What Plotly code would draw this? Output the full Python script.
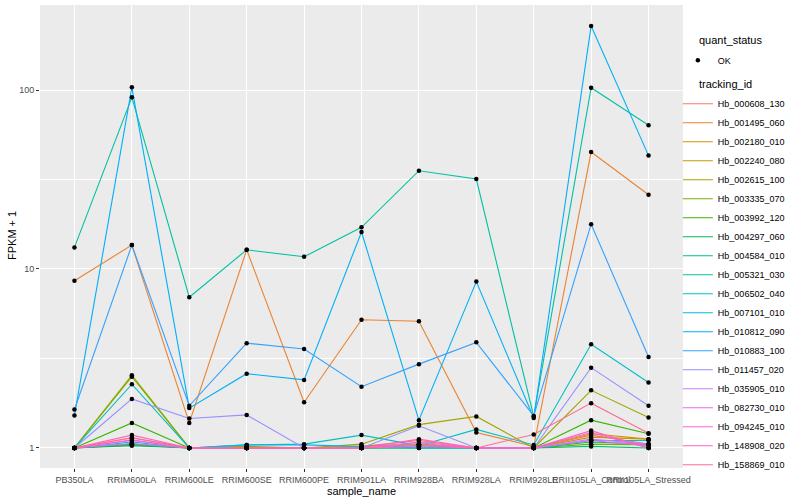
import plotly.graph_objects as go

samples = ["PB350LA", "RRIM600LA", "RRIM600LE", "RRIM600SE", "RRIM600PE", "RRIM901LA",
           "RRIM928BA", "RRIM928LA", "RRIM928LE", "RRII105LA_Control", "RRII105LA_Stressed"]

tracking_ids = ["Hb_000608_130", "Hb_001495_060", "Hb_002180_010", "Hb_002240_080", "Hb_002615_100",
                "Hb_003335_070", "Hb_003992_120", "Hb_004297_060", "Hb_004584_010", "Hb_005321_030",
                "Hb_006502_040", "Hb_007101_010", "Hb_010812_090", "Hb_010883_100", "Hb_011457_020",
                "Hb_035905_010", "Hb_082730_010", "Hb_094245_010", "Hb_148908_020", "Hb_158869_010"]

colors = ["#F8766D", "#EA8331", "#D89000", "#C09B00", "#A3A500", "#7CAE00", "#39B600", "#00BB4E",
          "#00BF7D", "#00C1A3", "#00BFC4", "#00BAE0", "#00B0F6", "#35A2FF", "#9590FF", "#C77CFF",
          "#E76BF3", "#FA62DB", "#FF62BC", "#FF6C91"]

# FPKM + 1 per tracking id, in sample order
Hb_000608_130 = [1.0, 1.14, 1.0, 1.0, 1.0, 1.02, 1.10, 1.0, 1.0, 1.18, 1.05]
Hb_001495_060 = [8.6, 13.6, 1.38, 12.8, 1.8, 5.2, 5.1, 1.22, 1.02, 45.0, 26.0]
Hb_002180_010 = [1.0, 1.05, 1.0, 1.0, 1.0, 1.0, 1.05, 1.0, 1.0, 1.2, 1.12]
Hb_002240_080 = [1.0, 1.04, 1.0, 1.0, 1.0, 1.0, 1.03, 1.0, 1.0, 1.15, 1.12]
Hb_002615_100 = [1.0, 2.55, 1.0, 1.02, 1.0, 1.05, 1.35, 1.5, 1.0, 2.1, 1.48]
Hb_003335_070 = [1.0, 2.5, 1.0, 1.0, 1.0, 1.02, 1.05, 1.0, 1.0, 1.05, 1.04]
Hb_003992_120 = [1.0, 1.38, 1.0, 1.0, 1.0, 1.0, 1.02, 1.0, 1.0, 1.43, 1.2]
Hb_004297_060 = [1.0, 1.03, 1.0, 1.0, 1.0, 1.0, 1.0, 1.0, 1.0, 1.08, 1.05]
Hb_004584_010 = [1.0, 1.05, 1.0, 1.0, 1.0, 1.0, 1.0, 1.0, 1.0, 1.02, 1.0]
Hb_005321_030 = [13.2, 91.0, 6.95, 12.8, 11.7, 17.1, 35.4, 31.8, 1.5, 103.0, 63.5]
Hb_006502_040 = [1.0, 2.27, 1.0, 1.04, 1.05, 1.18, 1.03, 1.27, 1.04, 3.8, 2.32]
Hb_007101_010 = [1.0, 1.08, 1.0, 1.04, 1.04, 1.02, 1.0, 1.0, 1.0, 1.1, 1.1]
Hb_010812_090 = [1.52, 103.5, 1.67, 2.6, 2.4, 16.1, 1.43, 8.5, 1.47, 228.0, 43.0]
Hb_010883_100 = [1.64, 13.6, 1.72, 3.85, 3.57, 2.2, 2.94, 3.89, 1.51, 17.8, 3.22]
Hb_011457_020 = [1.0, 1.88, 1.46, 1.53, 1.0, 1.0, 1.33, 1.0, 1.0, 2.81, 1.72]
Hb_035905_010 = [1.0, 1.1, 1.0, 1.0, 1.0, 1.0, 1.05, 1.0, 1.0, 1.12, 1.05]
Hb_082730_010 = [1.0, 1.06, 1.0, 1.0, 1.0, 1.0, 1.02, 1.0, 1.0, 1.1, 1.03]
Hb_094245_010 = [1.0, 1.11, 1.0, 1.0, 1.0, 1.0, 1.08, 1.0, 1.0, 1.22, 1.0]
Hb_148908_020 = [1.0, 1.18, 1.0, 1.0, 1.0, 1.0, 1.12, 1.0, 1.0, 1.25, 1.0]
Hb_158869_010 = [1.0, 1.14, 1.0, 1.0, 1.0, 1.0, 1.05, 1.0, 1.19, 1.78, 1.21]

series = [Hb_000608_130, Hb_001495_060, Hb_002180_010, Hb_002240_080, Hb_002615_100,
          Hb_003335_070, Hb_003992_120, Hb_004297_060, Hb_004584_010, Hb_005321_030,
          Hb_006502_040, Hb_007101_010, Hb_010812_090, Hb_010883_100, Hb_011457_020,
          Hb_035905_010, Hb_082730_010, Hb_094245_010, Hb_148908_020, Hb_158869_010]

y_ticks = [1, 10, 100]
y_tick_text = ["1", "10", "100"]

FONT = "Liberation Sans, Arial, sans-serif"

fig = go.Figure()

for tid, col, vals in zip(tracking_ids, colors, series):
    fig.add_trace(go.Scatter(
        x=samples, y=vals, mode="lines", name=tid,
        line=dict(color=col, width=1.1),
        legend="legend2", showlegend=True,
    ))

all_x, all_y = [], []
for vals in series:
    all_x += samples
    all_y += vals
fig.add_trace(go.Scatter(
    x=all_x, y=all_y, mode="markers", name="OK",
    marker=dict(color="black", size=4.5, symbol="circle"),
    legend="legend", showlegend=True,
))

fig.update_layout(
    width=800, height=500,
    margin=dict(l=40, r=117, t=5, b=32),
    paper_bgcolor="white",
    plot_bgcolor="#EBEBEB",
    font=dict(family=FONT, size=9, color="#4D4D4D"),
    xaxis=dict(
        type="category", categoryorder="array", categoryarray=samples,
        range=[-0.6, len(samples) - 0.4],
        showgrid=True, gridcolor="white", gridwidth=1.1,
        zeroline=False, showline=False,
        ticks="outside", ticklen=3, tickcolor="#333333", tickwidth=1,
        tickangle=0, tickfont=dict(size=9, color="#4D4D4D", family=FONT),
        title=dict(text="sample_name", font=dict(size=11, color="black", family=FONT), standoff=0),
        automargin=False,
    ),
    yaxis=dict(
        type="log", range=[-0.112, 2.475],
        tickvals=y_ticks, ticktext=y_tick_text,
        showgrid=True, gridcolor="white", gridwidth=1.1,
        zeroline=False, showline=False,
        ticks="outside", ticklen=3, tickcolor="#333333", tickwidth=1,
        tickfont=dict(size=9, color="#4D4D4D", family=FONT),
        minor=dict(tickvals=[10 ** 0.5, 10 ** 1.5], showgrid=True, gridcolor="white", gridwidth=0.5, ticks=""),
        automargin=False,
    ),
    legend=dict(
        x=0.992, y=0.912, xanchor="left", yanchor="top",
        font=dict(size=9, color="black", family=FONT),
        bgcolor="rgba(0,0,0,0)", itemwidth=30,
    ),
    legend2=dict(
        x=0.992, y=0.818, xanchor="left", yanchor="top",
        font=dict(size=9, color="black", family=FONT),
        bgcolor="rgba(0,0,0,0)", itemwidth=30, tracegroupgap=0,
    ),
)

# titles placed in paper coordinates (pixel -> paper conversion)
plot_l, plot_w, plot_b, plot_h = 40, 643, 468, 463
for txt, px, py in [("quant_status", 697, 40), ("tracking_id", 697, 84)]:
    fig.add_annotation(
        text=txt, x=(px - plot_l) / plot_w, y=(plot_b - py) / plot_h,
        xref="paper", yref="paper", xanchor="left", yanchor="middle",
        showarrow=False, font=dict(size=11, color="black", family=FONT),
    )
fig.add_annotation(
    text="FPKM + 1", x=(12 - plot_l) / plot_w, y=(plot_b - 236) / plot_h,
    xref="paper", yref="paper", xanchor="center", yanchor="middle", textangle=-90,
    showarrow=False, font=dict(size=11, color="black", family=FONT),
)

fig.write_html("out.html", post_script="document.body.style.margin='0';",
               config={"displayModeBar": False})
